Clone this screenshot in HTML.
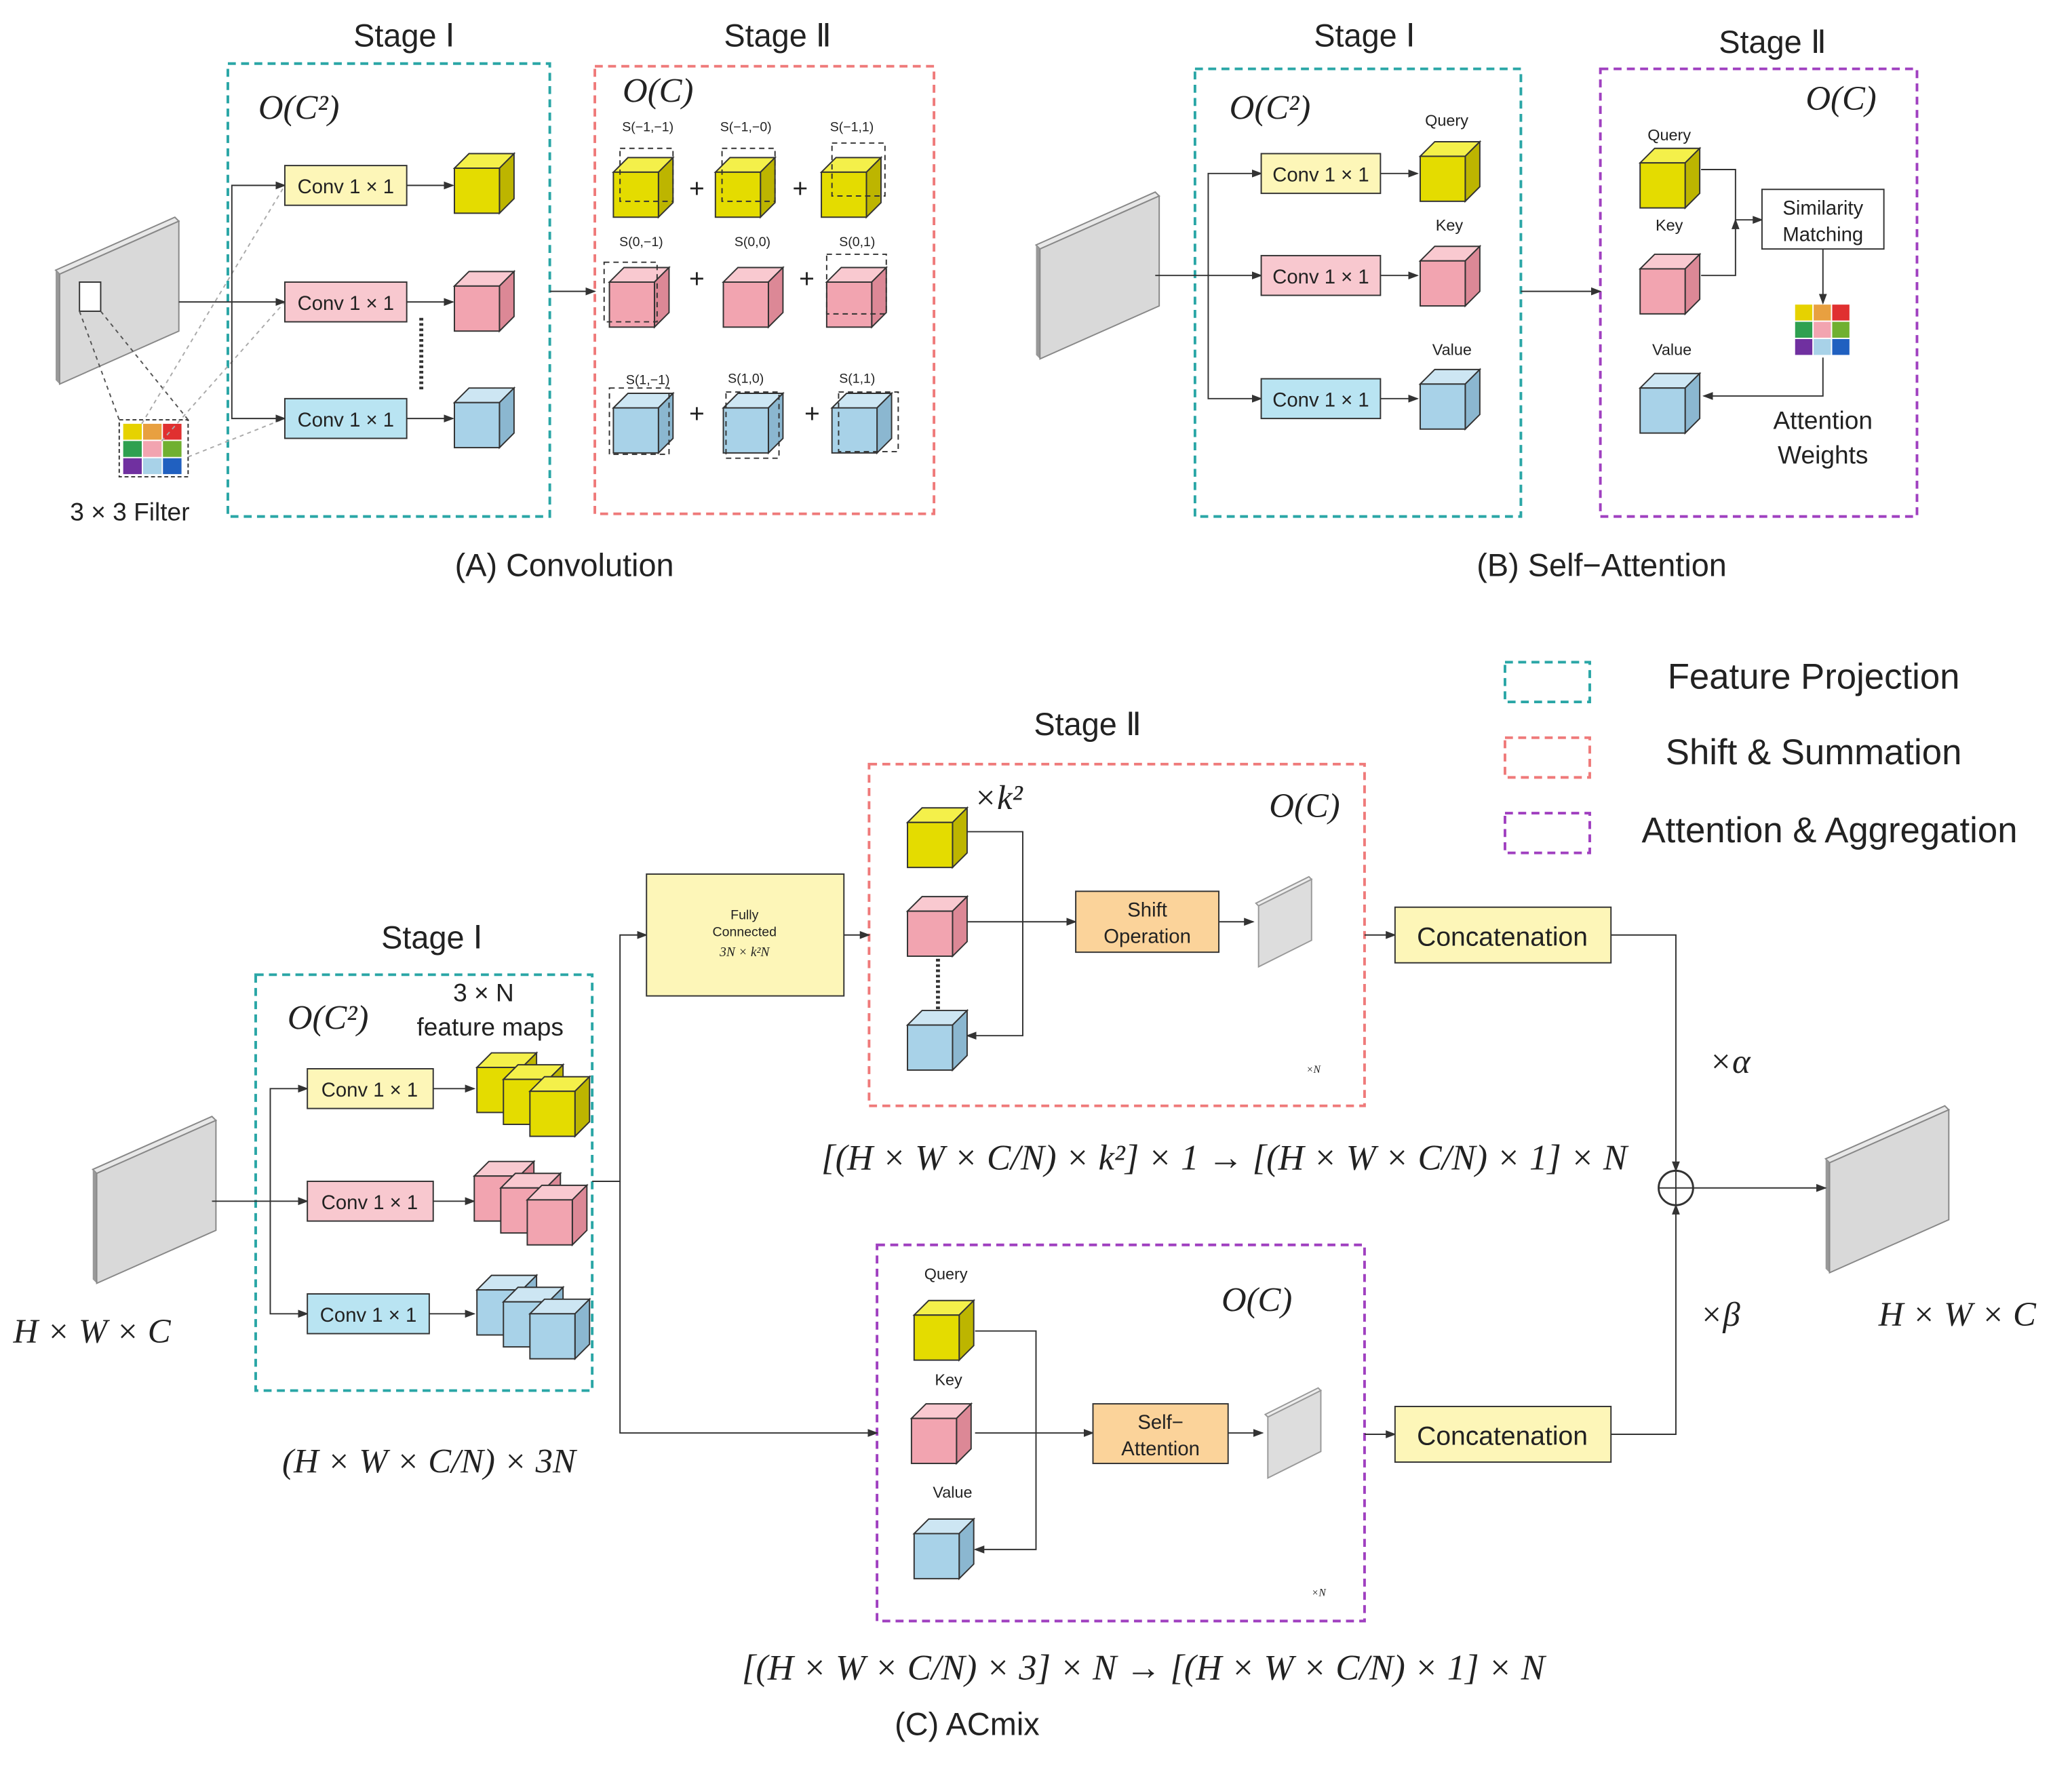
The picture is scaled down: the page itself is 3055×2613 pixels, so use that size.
<!DOCTYPE html>
<html><head><meta charset="utf-8"><style>
html,body{margin:0;padding:0;background:#fff}
svg{display:block}
text{font-family:"Liberation Sans",sans-serif;fill:#222}
.m{font-family:"Liberation Serif",serif;font-style:italic}
</style></head><body>
<svg width="3055" height="2613" viewBox="0 0 1564 1338" preserveAspectRatio="none" xmlns="http://www.w3.org/2000/svg">
<defs>
<marker id="ar" markerWidth="8" markerHeight="8" refX="7" refY="4" orient="auto" markerUnits="userSpaceOnUse"><path d="M0,1 L8,4 L0,7z" fill="#333"/></marker>
<g id="cy"><polygon points="0,11 11,0 45,0 34,11" fill="#f4f04a" stroke="#333" stroke-width="1"/><polygon points="34,11 45,0 45,34 34,45" fill="#bdb500" stroke="#333"/><rect x="0" y="11" width="34" height="34" fill="#e4dc00" stroke="#333"/></g>
<g id="cp"><polygon points="0,11 11,0 45,0 34,11" fill="#f9c9d0" stroke="#333"/><polygon points="34,11 45,0 45,34 34,45" fill="#dc8896" stroke="#333"/><rect x="0" y="11" width="34" height="34" fill="#f2a4b0" stroke="#333"/></g>
<g id="cb"><polygon points="0,11 11,0 45,0 34,11" fill="#cde6f3" stroke="#333"/><polygon points="34,11 45,0 45,34 34,45" fill="#8bb7d0" stroke="#333"/><rect x="0" y="11" width="34" height="34" fill="#a8d2e8" stroke="#333"/></g>
<g id="slab"><polygon points="0,40 90,0 93,3 3,43" fill="#e8e8e8" stroke="#888"/><polygon points="0,40 3,43 3,126 0,123" fill="#999"/><polygon points="3,43 93,3 93,86 3,126" fill="#d9d9d9" stroke="#888"/></g>
<g id="sslab"><polygon points="0,20 40,0 42,2 2,22" fill="#eee" stroke="#999"/><polygon points="2,22 42,2 42,48 2,68" fill="#ddd" stroke="#999"/></g>
</defs>
<g stroke-width="2" fill="none" stroke-dasharray="6,4">
<rect x="172" y="48" width="243" height="342" stroke="#2aa6a6"/>
<rect x="449" y="50" width="256" height="338" stroke="#ef7a7a"/>
<rect x="902" y="52" width="246" height="338" stroke="#2aa6a6"/>
<rect x="1208" y="52" width="239" height="338" stroke="#a040c0"/>
<rect x="1136" y="500" width="64" height="30" stroke="#2aa6a6"/>
<rect x="1136" y="557" width="64" height="30" stroke="#ef7a7a"/>
<rect x="1136" y="614" width="64" height="30" stroke="#a040c0"/>
<rect x="656" y="577" width="374" height="258" stroke="#ef7a7a"/>
<rect x="193" y="736" width="254" height="314" stroke="#2aa6a6"/>
<rect x="662" y="940" width="368" height="284" stroke="#a040c0"/>
</g>
<g font-size="24" text-anchor="middle">
<text x="305" y="35">Stage Ⅰ</text><text x="587" y="35">Stage Ⅱ</text>
<text x="1030" y="35">Stage Ⅰ</text><text x="1338" y="40">Stage Ⅱ</text>
<text x="821" y="555">Stage Ⅱ</text><text x="326" y="716">Stage Ⅰ</text>
<text x="426" y="435">(A) Convolution</text><text x="1209" y="435">(B) Self−Attention</text>
<text x="730" y="1310">(C) ACmix</text>
</g>
<g font-size="27" text-anchor="middle">
<text x="1369" y="520">Feature Projection</text><text x="1369" y="577">Shift &amp; Summation</text><text x="1381" y="636">Attention &amp; Aggregation</text>
</g>
<g class="m" font-size="26">
<text x="195" y="90" class="m">O(C²)</text><text x="470" y="77" class="m">O(C)</text>
<text x="928" y="90" class="m">O(C²)</text><text x="1363" y="83" class="m">O(C)</text>
<text x="217" y="777" class="m">O(C²)</text><text x="958" y="617" class="m">O(C)</text><text x="922" y="990" class="m">O(C)</text>
<text x="10" y="1014" class="m">H × W × C</text><text x="1418" y="1001" class="m">H × W × C</text>
<text x="213" y="1112" class="m">(H × W × C/N) × 3N</text>
<text x="620" y="883" class="m" font-size="27">[(H × W × C/N) × k²] × 1 → [(H × W × C/N) × 1] × N</text>
<text x="560" y="1268" class="m" font-size="27">[(H × W × C/N) × 3] × N → [(H × W × C/N) × 1] × N</text>
<text x="735" y="611" class="m">×k²</text><text x="1290" y="810" class="m">×α</text><text x="1283" y="1001" class="m">×β</text>
</g>
<!-- A -->
<use href="#slab" x="42" y="164"/>
<g stroke="#333" stroke-width="1"><rect x="60" y="213" width="16" height="22" fill="#fff"/>
<rect x="90" y="317" width="52" height="43" fill="#fff" stroke-dasharray="3,2"/></g>
<g><rect x="93" y="320" width="14" height="12" fill="#e6d200"/><rect x="108" y="320" width="14" height="12" fill="#e8a040"/><rect x="123" y="320" width="14" height="12" fill="#e03030"/>
<rect x="93" y="333" width="14" height="12" fill="#2fa050"/><rect x="108" y="333" width="14" height="12" fill="#f2a4b0"/><rect x="123" y="333" width="14" height="12" fill="#70b030"/>
<rect x="93" y="346" width="14" height="12" fill="#7030a0"/><rect x="108" y="346" width="14" height="12" fill="#a8d2e8"/><rect x="123" y="346" width="14" height="12" fill="#2060c0"/></g>
<g stroke="#555" stroke-dasharray="3,3" fill="none"><line x1="60" y1="235" x2="90" y2="317"/><line x1="76" y1="235" x2="142" y2="317"/>
<line x1="107" y1="320" x2="215" y2="140" stroke="#aaa"/><line x1="122" y1="333" x2="215" y2="228" stroke="#aaa"/><line x1="142" y1="345" x2="215" y2="316" stroke="#aaa"/></g>
<text x="98" y="393" font-size="19" text-anchor="middle">3 × 3 Filter</text>
<g stroke="#333" fill="none" marker-end="url(#ar)"><line x1="135" y1="228" x2="215" y2="228"/><polyline points="175,228 175,140 215,140"/><polyline points="175,228 175,316 215,316"/>
<line x1="307" y1="140" x2="342" y2="140"/><line x1="307" y1="228" x2="342" y2="228"/><line x1="307" y1="316" x2="342" y2="316"/><line x1="415" y1="220" x2="449" y2="220"/></g>
<line x1="318" y1="240" x2="318" y2="295" stroke="#333" stroke-width="3" stroke-dasharray="2,2"/>
<g font-size="15"><rect x="215" y="125" width="92" height="30" fill="#fdf6b8" stroke="#333"/><text x="261" y="146" text-anchor="middle">Conv 1 × 1</text>
<rect x="215" y="213" width="92" height="30" fill="#f8c8cf" stroke="#333"/><text x="261" y="234" text-anchor="middle">Conv 1 × 1</text>
<rect x="215" y="301" width="92" height="30" fill="#b9e4f2" stroke="#333"/><text x="261" y="322" text-anchor="middle">Conv 1 × 1</text></g>
<use href="#cy" x="343" y="116"/><use href="#cp" x="343" y="205"/><use href="#cb" x="343" y="293"/>
<g font-size="10" text-anchor="middle"><text x="489" y="99">S(−1,−1)</text><text x="563" y="99">S(−1,−0)</text><text x="643" y="99">S(−1,1)</text>
<text x="484" y="186">S(0,−1)</text><text x="568" y="186">S(0,0)</text><text x="647" y="186">S(0,1)</text>
<text x="489" y="290">S(1,−1)</text><text x="563" y="289">S(1,0)</text><text x="647" y="289">S(1,1)</text></g>
<use href="#cy" x="463" y="119"/><use href="#cy" x="540" y="119"/><use href="#cy" x="620" y="119"/>
<use href="#cp" x="460" y="202"/><use href="#cp" x="546" y="202"/><use href="#cp" x="624" y="202"/>
<use href="#cb" x="463" y="297"/><use href="#cb" x="546" y="297"/><use href="#cb" x="628" y="297"/>
<g fill="none" stroke="#333" stroke-dasharray="4,3"><rect x="468" y="112" width="40" height="40"/><rect x="545" y="112" width="40" height="40"/><rect x="628" y="108" width="40" height="40"/>
<rect x="456" y="198" width="40" height="45"/><rect x="624" y="192" width="45" height="45"/>
<rect x="460" y="293" width="45" height="50"/><rect x="548" y="296" width="40" height="50"/><rect x="633" y="296" width="45" height="45"/></g>
<g font-size="20" text-anchor="middle"><text x="526" y="149">+</text><text x="604" y="149">+</text><text x="526" y="217">+</text><text x="609" y="217">+</text><text x="526" y="319">+</text><text x="613" y="319">+</text></g>
<!-- B -->
<use href="#slab" x="782" y="145"/>
<g stroke="#333" fill="none" marker-end="url(#ar)"><line x1="872" y1="208" x2="952" y2="208"/><polyline points="912,208 912,131 952,131"/><polyline points="912,208 912,301 952,301"/>
<line x1="1042" y1="131" x2="1070" y2="131"/><line x1="1042" y1="208" x2="1070" y2="208"/><line x1="1042" y1="301" x2="1070" y2="301"/><line x1="1148" y1="220" x2="1208" y2="220"/>
<polyline points="1284,128 1310,128 1310,166 1330,166"/><polyline points="1284,208 1310,208 1310,166"/><line x1="1376" y1="188" x2="1376" y2="229"/><polyline points="1376,270 1376,299 1286,299"/></g>
<g font-size="15"><rect x="952" y="116" width="90" height="30" fill="#fdf6b8" stroke="#333"/><text x="997" y="137" text-anchor="middle">Conv 1 × 1</text>
<rect x="952" y="193" width="90" height="30" fill="#f8c8cf" stroke="#333"/><text x="997" y="214" text-anchor="middle">Conv 1 × 1</text>
<rect x="952" y="286" width="90" height="30" fill="#b9e4f2" stroke="#333"/><text x="997" y="307" text-anchor="middle">Conv 1 × 1</text></g>
<use href="#cy" x="1072" y="107"/><use href="#cp" x="1072" y="186"/><use href="#cb" x="1072" y="279"/>
<use href="#cy" x="1238" y="112"/><use href="#cp" x="1238" y="192"/><use href="#cb" x="1238" y="282"/>
<g font-size="12" text-anchor="middle"><text x="1092" y="95">Query</text><text x="1094" y="174">Key</text><text x="1096" y="268">Value</text>
<text x="1260" y="106">Query</text><text x="1260" y="174">Key</text><text x="1262" y="268">Value</text></g>
<rect x="1330" y="143" width="92" height="45" fill="#fff" stroke="#333"/><text x="1376" y="162" font-size="15" text-anchor="middle">Similarity</text><text x="1376" y="182" font-size="15" text-anchor="middle">Matching</text>
<g><rect x="1355" y="230" width="13" height="12" fill="#e6d200"/><rect x="1369" y="230" width="13" height="12" fill="#e8a040"/><rect x="1383" y="230" width="13" height="12" fill="#e03030"/>
<rect x="1355" y="243" width="13" height="12" fill="#2fa050"/><rect x="1369" y="243" width="13" height="12" fill="#f2a4b0"/><rect x="1383" y="243" width="13" height="12" fill="#70b030"/>
<rect x="1355" y="256" width="13" height="12" fill="#7030a0"/><rect x="1369" y="256" width="13" height="12" fill="#a8d2e8"/><rect x="1383" y="256" width="13" height="12" fill="#2060c0"/></g>
<text x="1376" y="324" font-size="19" text-anchor="middle">Attention</text><text x="1376" y="350" font-size="19" text-anchor="middle">Weights</text>
<!-- C -->
<use href="#slab" x="70" y="843"/><use href="#slab" x="1378" y="835"/>
<g stroke="#333" fill="none" marker-end="url(#ar)"><line x1="160" y1="907" x2="232" y2="907"/><polyline points="204,907 204,822 232,822"/><polyline points="204,907 204,992 232,992"/>
<line x1="327" y1="822" x2="358" y2="822"/><line x1="327" y1="907" x2="358" y2="907"/><line x1="324" y1="992" x2="358" y2="992"/>
<polyline points="447,892 468,892 468,706 488,706"/><polyline points="468,892 468,1082 662,1082"/><line x1="637" y1="706" x2="656" y2="706"/>
<polyline points="730,628 772,628 772,782 730,782"/><line x1="730" y1="696" x2="812" y2="696"/><line x1="920" y1="696" x2="946" y2="696"/><line x1="1030" y1="706" x2="1053" y2="706"/>
<polyline points="1216,706 1265,706 1265,884"/><polyline points="1216,1083 1265,1083 1265,910"/><line x1="1278" y1="897" x2="1378" y2="897"/>
<polyline points="736,1005 782,1005 782,1170 736,1170"/><line x1="736" y1="1082" x2="825" y2="1082"/><line x1="927" y1="1082" x2="953" y2="1082"/><line x1="1030" y1="1083" x2="1053" y2="1083"/></g>
<line x1="708" y1="720" x2="708" y2="765" stroke="#333" stroke-width="3" stroke-dasharray="2,2"/>
<circle cx="1265" cy="897" r="13" fill="#fff" stroke="#333" stroke-width="1.5"/><line x1="1252" y1="897" x2="1278" y2="897" stroke="#333"/><line x1="1265" y1="884" x2="1265" y2="910" stroke="#333"/>
<g font-size="15"><rect x="232" y="807" width="95" height="30" fill="#fdf6b8" stroke="#333"/><text x="279" y="828" text-anchor="middle">Conv 1 × 1</text>
<rect x="232" y="892" width="95" height="30" fill="#f8c8cf" stroke="#333"/><text x="279" y="913" text-anchor="middle">Conv 1 × 1</text>
<rect x="232" y="977" width="92" height="30" fill="#b9e4f2" stroke="#333"/><text x="278" y="998" text-anchor="middle">Conv 1 × 1</text></g>
<text x="365" y="756" font-size="19" text-anchor="middle">3 × N</text><text x="370" y="782" font-size="19" text-anchor="middle">feature maps</text>
<use href="#cy" x="360" y="795"/><use href="#cy" x="380" y="804"/><use href="#cy" x="400" y="813"/>
<use href="#cp" x="358" y="877"/><use href="#cp" x="378" y="886"/><use href="#cp" x="398" y="895"/>
<use href="#cb" x="360" y="963"/><use href="#cb" x="380" y="972"/><use href="#cb" x="400" y="981"/>
<rect x="488" y="660" width="149" height="92" fill="#fdf6b8" stroke="#333"/>
<g font-size="10" text-anchor="middle"><text x="562" y="694">Fully</text><text x="562" y="707">Connected</text><text x="562" y="722" class="m">3N × k²N</text></g>
<use href="#cy" x="685" y="610"/><use href="#cp" x="685" y="677"/><use href="#cb" x="685" y="763"/>
<rect x="812" y="673" width="108" height="46" fill="#fbd39a" stroke="#333"/><text x="866" y="692" font-size="15" text-anchor="middle">Shift</text><text x="866" y="712" font-size="15" text-anchor="middle">Operation</text>
<use href="#sslab" x="948" y="662"/>
<text x="986" y="810" font-size="8" class="m">×N</text><text x="990" y="1205" font-size="8" class="m">×N</text>
<g font-size="20"><rect x="1053" y="685" width="163" height="42" fill="#fdf6b8" stroke="#333"/><text x="1134" y="714" text-anchor="middle">Concatenation</text>
<rect x="1053" y="1062" width="163" height="42" fill="#fdf6b8" stroke="#333"/><text x="1134" y="1091" text-anchor="middle">Concatenation</text></g>
<g font-size="12" text-anchor="middle"><text x="714" y="966">Query</text><text x="716" y="1046">Key</text><text x="719" y="1131">Value</text></g>
<use href="#cy" x="690" y="982"/><use href="#cp" x="688" y="1060"/><use href="#cb" x="690" y="1147"/>
<rect x="825" y="1060" width="102" height="45" fill="#fbd39a" stroke="#333"/><text x="876" y="1079" font-size="15" text-anchor="middle">Self−</text><text x="876" y="1099" font-size="15" text-anchor="middle">Attention</text>
<use href="#sslab" x="955" y="1048"/>
</svg>
</body></html>
